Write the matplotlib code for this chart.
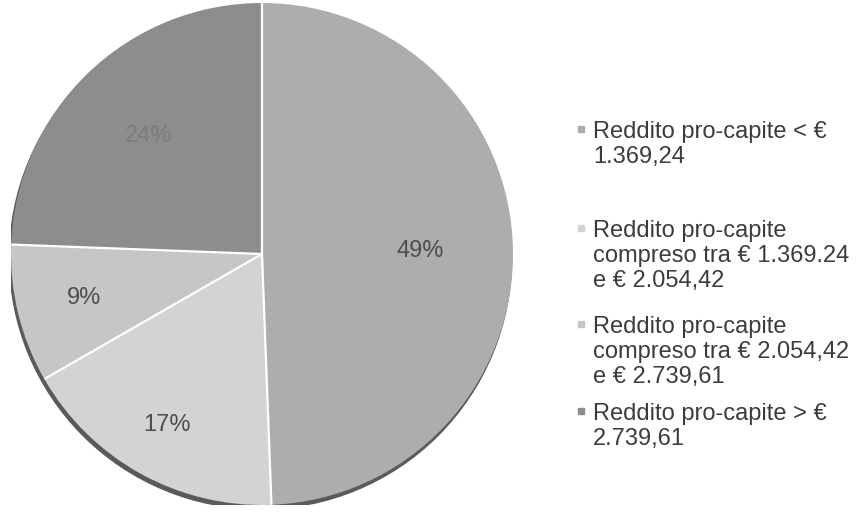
import numpy as np
import matplotlib
matplotlib.use("Agg")
import matplotlib.pyplot as plt
from matplotlib.patches import Circle

plt.rcParams['font.family'] = ['Liberation Sans', 'DejaVu Sans']

# quote del reddito pro-capite (%)
quote = [49.4, 17.3, 8.9, 24.4]
etichette = [
    "Reddito pro-capite < €\n1.369,24",
    "Reddito pro-capite\ncompreso tra € 1.369.24\ne € 2.054,42",
    "Reddito pro-capite\ncompreso tra € 2.054,42\ne € 2.739,61",
    "Reddito pro-capite > €\n2.739,61",
]
colori = ["#adadad", "#d3d3d3", "#c6c6c6", "#8d8d8d"]
colori_pct = ["#4e4e4e", "#4e4e4e", "#4e4e4e", "#7c7c7c"]
dist_pct = [0.63, 0.78, 0.73, 0.65]  # distanza delle percentuali dal centro

W, H = 857, 512
fig = plt.figure(figsize=(W / 100, H / 100), dpi=100)
ax = fig.add_axes([11 / W, 7 / H, 502 / W, 502 / H])
ax.axis('off')

# ombra sotto la torta
ax.add_patch(Circle((-0.006, -0.016), 1.0, color="#5a5a5a", zorder=0))

wedges, _ = ax.pie(quote, colors=colori, startangle=90, counterclock=False,
                   radius=1.0, wedgeprops=dict(linewidth=0))
ax.set_xlim(-1, 1)
ax.set_ylim(-1, 1)
ax.set_aspect('equal')

# separatori bianchi
for w in wedges:
    t = np.deg2rad(w.theta1)
    ax.plot([0, np.cos(t)], [0, np.sin(t)], color="white", lw=1.6, zorder=5,
            solid_capstyle='butt')

for w, q, d, c in zip(wedges, quote, dist_pct, colori_pct):
    m = np.deg2rad((w.theta1 + w.theta2) / 2)
    ax.text(d * np.cos(m), d * np.sin(m), "%d%%" % round(q), ha='center', va='center',
            fontsize=17, color=c, zorder=6)

# legenda
basi = [138, 237, 333, 420]
passo = 25
for lab, col, y0 in zip(etichette, colori, basi):
    fig.patches.append(plt.Rectangle(((578) / W, (H - y0 + 6) / H), 6 / W, 6 / H,
                                     transform=fig.transFigure, color=col, figure=fig))
    for k, riga in enumerate(lab.split("\n")):
        fig.text(593 / W, (H - y0 - k * passo) / H, riga, ha='left', va='baseline',
                 fontsize=17, color="#3c3c3c")

fig.savefig("out.png", dpi=100, facecolor="white")
